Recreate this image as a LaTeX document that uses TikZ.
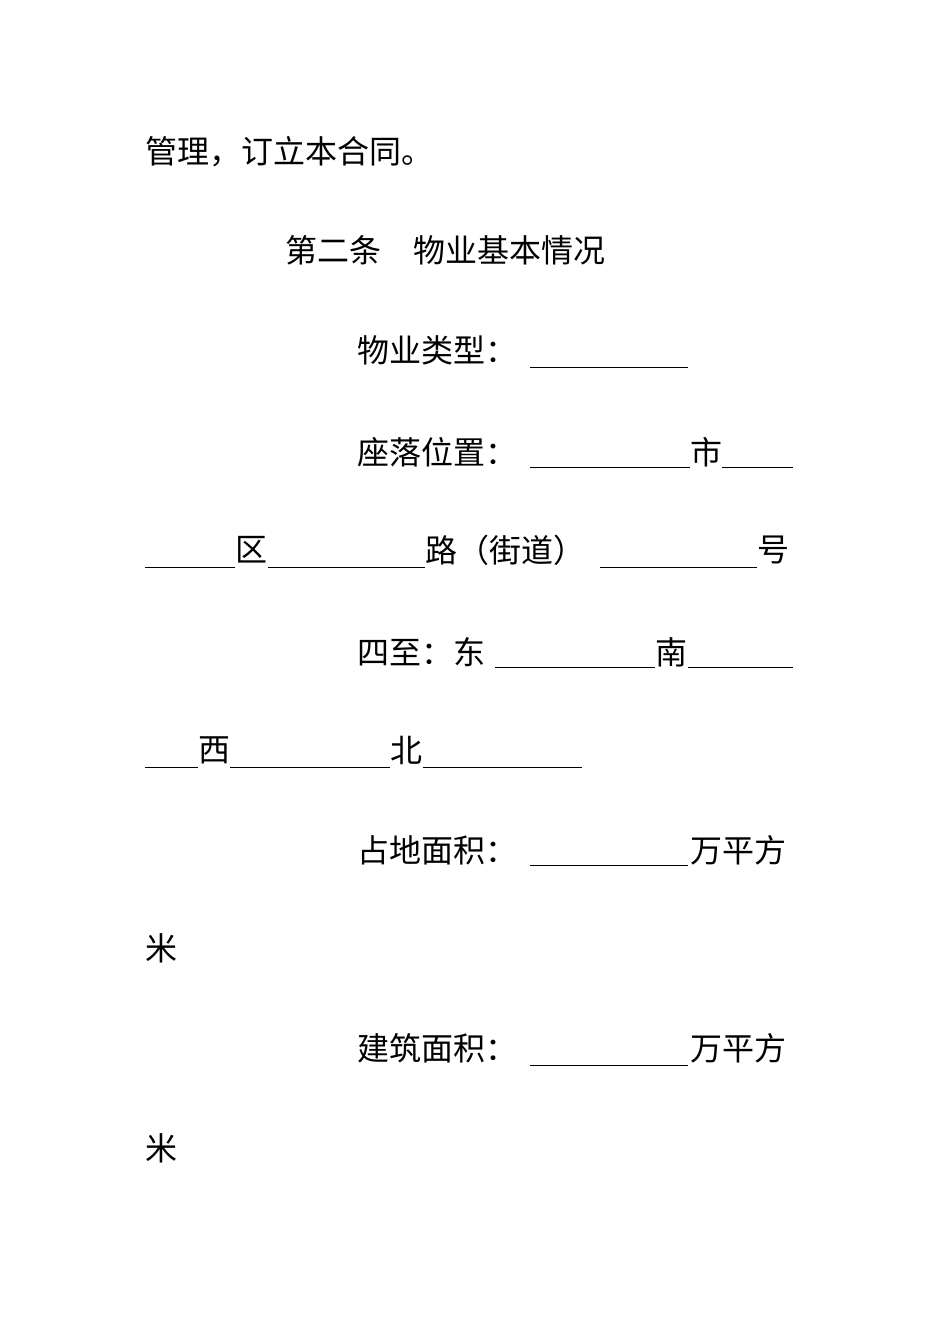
\documentclass[tikz,border=0pt]{standalone}
\usepackage{fontspec}
\newfontfamily\cjk{Noto Sans CJK SC}
\begin{document}
\begin{tikzpicture}[x=1pt,y=-1pt,
  t/.style={anchor=west,inner sep=0pt,font=\cjk\fontsize{32}{32}\selectfont},
  u/.style={line width=0.8pt}]
\useasboundingbox[fill=white] (0,0) rectangle (950,1344);
\node[t] (l1) at (145,152) {管理，订立本合同。};
\node[t] (l2) at (285,250) {第二条\hspace{32pt}物业基本情况};
\node[t] (l3) at (357,350) {物业类型：};
\draw[u] (530,367) -- (688,367);
\node[t] (l4) at (357,452) {座落位置：};
\draw[u] (530,467) -- (690,467);
\node[t] (l4b) at (690,452) {市};
\draw[u] (722,467) -- (793,467);
\draw[u] (145,567) -- (235,567);
\node[t] (l5a) at (235,550) {区};
\draw[u] (268,567) -- (425,567);
\node[t] (l5b) at (425,550) {路（街道）};
\draw[u] (600,567) -- (757,567);
\node[t] (l5c) at (757,550) {号};
\node[t] (l6) at (357,652) {四至：东};
\draw[u] (495,667) -- (655,667);
\node[t] (l6b) at (655,652) {南};
\draw[u] (688,667) -- (793,667);
\draw[u] (145,767) -- (198,767);
\node[t] (l7a) at (198,750) {西};
\draw[u] (230,767) -- (390,767);
\node[t] (l7b) at (390,750) {北};
\draw[u] (423,767) -- (582,767);
\node[t] (l8) at (357,850) {占地面积：};
\draw[u] (530,865) -- (688,865);
\node[t] (l8b) at (690,850) {万平方};
\node[t] (l9) at (145,948) {米};
\node[t] (l10) at (357,1048) {建筑面积：};
\draw[u] (530,1065) -- (688,1065);
\node[t] (l10b) at (690,1048) {万平方};
\node[t] (l11) at (145,1148) {米};
\end{tikzpicture}
\end{document}
